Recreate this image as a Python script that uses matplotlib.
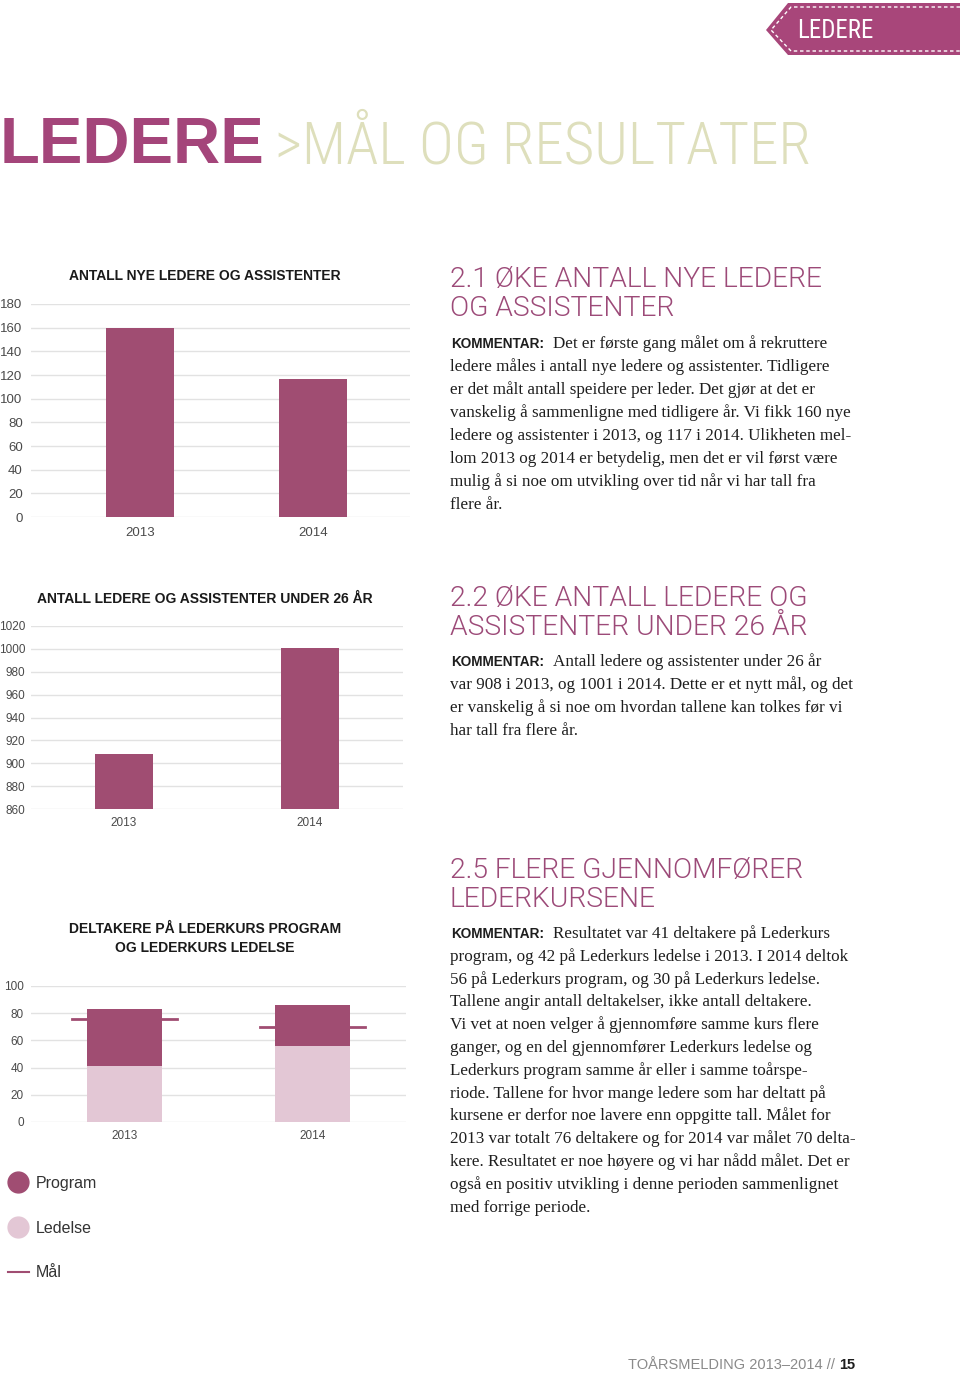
import matplotlib
matplotlib.use('Agg')
import matplotlib.pyplot as plt
from matplotlib import font_manager as fm
from matplotlib.patches import Polygon
from matplotlib.lines import Line2D

W, H = 960, 1376

# chart data
years = ['2013', '2014']
new_leaders = [160, 117]
under26 = [908, 1001]
course_lower = [41, 56]     # light segment
course_upper = [42, 30]     # dark segment
course_goal = [76, 70]

ticks1 = list(range(0, 181, 20))
ticks2 = list(range(860, 1021, 20))
ticks3 = list(range(0, 101, 20))

title1 = 'ANTALL NYE LEDERE OG ASSISTENTER'
title2 = 'ANTALL LEDERE OG ASSISTENTER UNDER 26 ÅR'
title3 = ['DELTAKERE PÅ LEDERKURS PROGRAM', 'OG LEDERKURS LEDELSE']
legend_labels = ['Program', 'Ledelse', 'Mål']

head21 = ['2.1 ØKE ANTALL NYE LEDERE', 'OG ASSISTENTER']
head22 = ['2.2 ØKE ANTALL LEDERE OG', 'ASSISTENTER UNDER 26 ÅR']
head25 = ['2.5 FLERE GJENNOMFØRER', 'LEDERKURSENE']

body21 = ['Det er første gang målet om å rekruttere',
          'ledere måles i antall nye ledere og assistenter. Tidligere',
          'er det målt antall speidere per leder. Det gjør at det er',
          'vanskelig å sammenligne med tidligere år. Vi fikk 160 nye',
          'ledere og assistenter i 2013, og 117 i 2014. Ulikheten mel-',
          'lom 2013 og 2014 er betydelig, men det er vil først være',
          'mulig å si noe om utvikling over tid når vi har tall fra',
          'flere år.']
body22 = ['Antall ledere og assistenter under 26 år',
          'var 908 i 2013, og 1001 i 2014. Dette er et nytt mål, og det',
          'er vanskelig å si noe om hvordan tallene kan tolkes før vi',
          'har tall fra flere år.']
body25 = ['Resultatet var 41 deltakere på Lederkurs',
          'program, og 42 på Lederkurs ledelse i 2013. I 2014 deltok',
          '56 på Lederkurs program, og 30 på Lederkurs ledelse.',
          'Tallene angir antall deltakelser, ikke antall deltakere.',
          'Vi vet at noen velger å gjennomføre samme kurs flere',
          'ganger, og en del gjennomfører Lederkurs ledelse og',
          'Lederkurs program samme år eller i samme toårspe-',
          'riode. Tallene for hvor mange ledere som har deltatt på',
          'kursene er derfor noe lavere enn oppgitte tall. Målet for',
          '2013 var totalt 76 deltakere og for 2014 var målet 70 delta-',
          'kere. Resultatet er noe høyere og vi har nådd målet. Det er',
          'også en positiv utvikling i denne perioden sammenlignet',
          'med forrige periode.']

PINK = '#A04D72'
HEAD = '#9C4A78'
LIGHT = '#E3C7D5'
OLIVE = '#DEDFBC'
GRID = '#E2E2E2'


def pick_font(weight, condensed, prefer):
    best = None
    for f in fm.fontManager.ttflist:
        if (f.stretch == 'condensed') != condensed or f.style != 'normal':
            continue
        w = f.weight if isinstance(f.weight, int) else fm.weight_dict.get(f.weight, 400)
        rank = prefer.index(f.name) if f.name in prefer else 99
        if not condensed and rank == 99:
            continue
        key = (abs(w - weight) > 100, rank, abs(w - weight))
        if best is None or key < best[0]:
            best = (key, f.fname)
    if best is None:
        return fm.FontProperties(family='DejaVu Sans')
    return fm.FontProperties(fname=best[1])


cond_pref = ['Roboto Condensed', 'Noto Sans', 'Open Sans', 'DejaVu Sans',
             'Liberation Sans Narrow', 'Roboto']
fp_cond_light = pick_font(300, True, cond_pref)
fp_cond = pick_font(400, True, cond_pref)
fp_light = pick_font(300, False, ['Roboto', 'Lato', 'Open Sans', 'Noto Sans', 'DejaVu Sans'])

fig = plt.figure(figsize=(W / 100, H / 100), dpi=100)
r = fig.canvas.get_renderer()

bg = fig.add_axes([0, 0, 1, 1])
bg.set_xlim(0, W)
bg.set_ylim(H, 0)
bg.axis('off')


def wpx(t):
    return t.get_window_extent(renderer=r).width


def fit(t, target):
    t.set_fontsize(t.get_fontsize() * target / wpx(t))
    return t


# banner top right
bg.add_patch(Polygon([(766, 30), (788, 3), (960, 3), (960, 55), (788, 55)],
                     closed=True, color='#A8467A', lw=0))
bg.plot([960, 791, 771, 791, 960], [7, 7, 30, 51, 51], color='white', lw=1,
        dashes=(2.5, 2))
fit(bg.text(797, 38, 'LEDERE', color='white', fontproperties=fp_cond,
            fontsize=18, va='baseline'), 76)

# page title
fit(bg.text(0, 163, 'LEDERE', color='#A4457A', family='Liberation Sans',
            weight='bold', fontsize=48, va='baseline'), 265)
fit(bg.text(275, 163, '>MÅL OG RESULTATER', color=OLIVE,
            fontproperties=fp_cond_light, fontsize=50, va='baseline'), 537)

# headings and comment texts
hd = bg.text(450, 287, head21[0], color=HEAD, fontproperties=fp_light,
             fontsize=18, va='baseline')
fit(hd, 373)
head_fs = hd.get_fontsize()

probe = bg.text(450, 0, body25[9], family='Liberation Serif', fontsize=12)
body_fs = 12 * 405 / wpx(probe)
probe.remove()


def section(head, top, body, base, step):
    for i, line in enumerate(head):
        if (i, top) != (0, 287):
            bg.text(450, top + i * 29, line, color=HEAD, fontproperties=fp_light,
                    fontsize=head_fs, va='baseline')
    k = bg.text(451, base, 'KOMMENTAR:', color='#1e1e1e', family='Liberation Sans',
                weight='bold', fontsize=9, va='baseline')
    fit(k, 94)
    for i, line in enumerate(body):
        x = 553 if i == 0 else 450
        bg.text(x, base + i * step, line, color='#1e1e1e', family='Liberation Serif',
                fontsize=body_fs, va='baseline')


section(head21, 287, body21, 348, 23)
section(head22, 606, body22, 666, 23)
section(head25, 878, body25, 938, 22.8)

# footer
n = bg.text(855, 1369, '15', color='#1e1e1e', family='Liberation Sans',
            weight='bold', fontsize=10.5, va='baseline', ha='right')
bg.text(855 - wpx(n) - 4, 1369, 'TOÅRSMELDING 2013–2014 //', color='#8a8a8a',
        family='Liberation Sans', fontsize=10.5, va='baseline', ha='right')


def px_axes(left, top, right, bottom):
    return fig.add_axes([left / W, 1 - bottom / H, (right - left) / W, (bottom - top) / H])


def style(ax, ticks, fs, ypad, xpad):
    ax.set_ylim(ticks[0], ticks[-1])
    ax.set_yticks(ticks)
    ax.set_facecolor('none')
    ax.grid(axis='y', color=GRID, lw=1)
    ax.set_axisbelow(True)
    for s in ax.spines.values():
        s.set_visible(False)
    ax.tick_params(axis='y', length=0, labelsize=fs, labelcolor='#4a4a4a', pad=ypad)
    ax.tick_params(axis='x', length=0, labelsize=fs, labelcolor='#4a4a4a', pad=xpad)
    for lab in ax.get_xticklabels() + ax.get_yticklabels():
        lab.set_family('Liberation Sans')


def chart_title(y, s):
    bg.text(205, y, s, ha='center', va='baseline', family='Liberation Sans',
            weight='bold', fontsize=10, color='#1a1a1a')


x = [0, 1]

# chart 1
ax1 = px_axes(31, 304, 410, 517)
ax1.bar(x, new_leaders, width=0.39, color=PINK, zorder=3)
ax1.set_xlim(-0.63, 1.56)
ax1.set_xticks(x, years)
style(ax1, ticks1, 9.5, 6, 7)
chart_title(280, title1)

# chart 2
ax2 = px_axes(31, 626, 403, 809)
ax2.bar(x, [v - ticks2[0] for v in under26], bottom=ticks2[0], width=0.31,
        color=PINK, zorder=3)
ax2.set_xlim(-0.5, 1.5)
ax2.set_xticks(x, years)
style(ax2, ticks2, 8.5, 4, 6)
chart_title(603, title2)

# chart 3
ax3 = px_axes(31, 986, 406, 1122)
for xi, g in zip(x, course_goal):
    ax3.plot([xi - 0.28, xi + 0.28], [g, g], color=PINK, lw=2, zorder=2)
ax3.bar(x, course_lower, width=0.4, color=LIGHT, zorder=3)
ax3.bar(x, course_upper, bottom=course_lower, width=0.4, color=PINK, zorder=3)
ax3.set_xlim(-0.5, 1.5)
ax3.set_xticks(x, years)
style(ax3, ticks3, 8.5, 5, 6)
for i, line in enumerate(title3):
    chart_title(933 + i * 19, line)

handles = [Line2D([], [], ls='none', marker='o', ms=15, color=PINK),
           Line2D([], [], ls='none', marker='o', ms=15, color=LIGHT),
           Line2D([], [], color=PINK, lw=1.5)]
fig.legend(handles, legend_labels, loc='upper left', bbox_to_anchor=(8 / W, 1 - 1176 / H),
           frameon=False, labelspacing=1.85, handlelength=1.3,
           handletextpad=0.45, borderpad=0, borderaxespad=0,
           prop={'family': 'Liberation Sans', 'size': 11.5}, labelcolor='#333333')

fig.savefig('out.png', dpi=100)
